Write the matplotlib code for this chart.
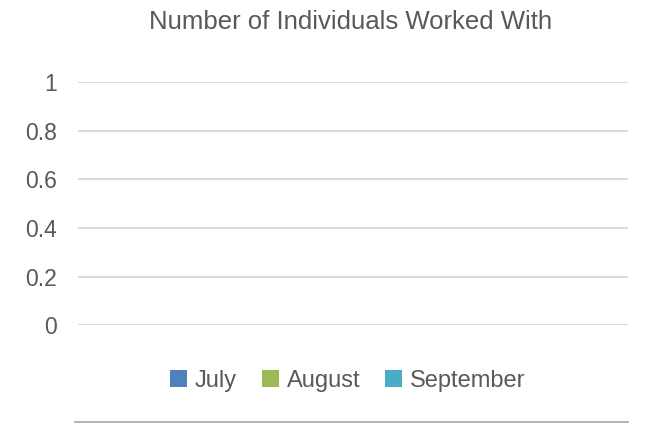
import matplotlib.pyplot as plt
import matplotlib.lines as mlines
import numpy as np

plt.rcParams["font.family"] = ["Liberation Sans", "DejaVu Sans"]

categories = [""]
series = ["July", "August", "September"]
values = {"July": [0], "August": [0], "September": [0]}
colors = ["#4F81BD", "#9BBB59", "#4BACC6"]

fig = plt.figure(figsize=(6.56, 4.25), dpi=100)
ax = fig.add_axes([0.119, 0.235, 0.838, 0.572])

x = np.arange(len(categories))
w = 0.25
for i, (name, c) in enumerate(zip(series, colors)):
    ax.bar(x + (i - 1) * w, values[name], w, color=c, label=name)

ax.set_ylim(0, 1)
ax.set_yticks([0, 0.2, 0.4, 0.6, 0.8, 1])
ax.set_yticklabels(["0", "0.2", "0.4", "0.6", "0.8", "1"])
ax.set_xlim(-0.5, 0.5)
ax.set_xticks([])
ax.grid(axis="y", color="#D9D9D9", linewidth=1.4)
ax.set_axisbelow(True)
for s in ax.spines.values():
    s.set_visible(False)
ax.tick_params(axis="y", length=0, pad=15, labelsize=16.5, labelcolor="#595959")

fig.suptitle("Number of Individuals Worked With", x=0.534, y=0.977, fontsize=18.5, color="#595959")

fig.legend(loc="center", bbox_to_anchor=(0.53, 0.104), ncol=3, frameon=False,
           fontsize=17, labelcolor="#595959", handlelength=0.72, handleheight=0.72,
           handletextpad=0.34, columnspacing=1.05)

fig.add_artist(mlines.Line2D([0.115, 0.957], [0.006, 0.006], color="#A6A6A6", linewidth=1.2))

fig.savefig("out.png", dpi=100)
